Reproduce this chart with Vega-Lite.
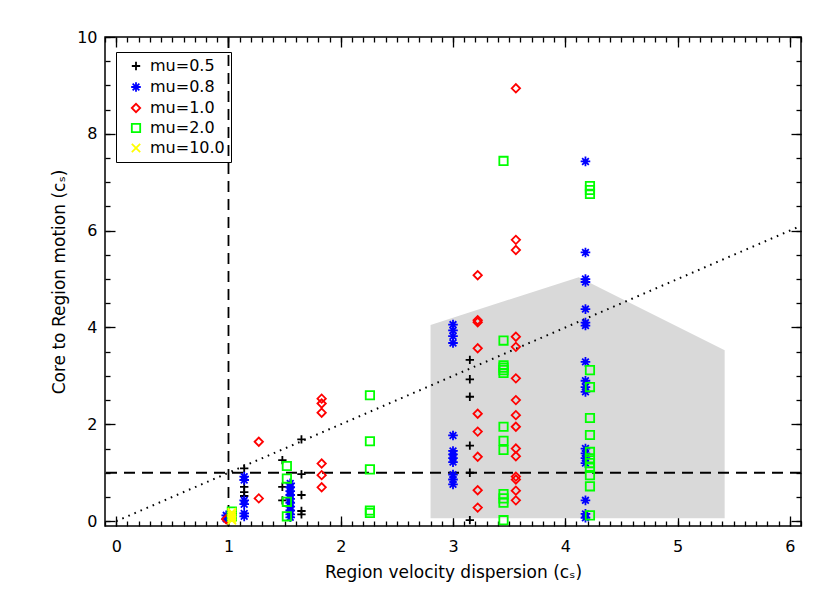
{
  "$schema": "https://vega.github.io/schema/vega-lite/v6.json",
  "width": 696,
  "height": 489,
  "autosize": "none",
  "padding": {"left": 105, "top": 37, "right": 29, "bottom": 67},
  "background": "white",
  "config": {
    "view": {"stroke": "black", "strokeWidth": 1.5},
    "font": "DejaVu Sans",
    "axis": {
      "domain": false, "grid": false, "tickColor": "black", "tickWidth": 1.3,
      "labelFont": "DejaVu Sans", "labelFontSize": 16, "labelColor": "black",
      "titleFont": "DejaVu Sans", "titleFontSize": 17, "titleFontWeight": "normal", "titleColor": "black",
      "labelFlush": false, "labelOverlap": false
    }
  },
  "datasets": {
    "poly": [
      {"x": 2.8, "y": 4.05, "y2": 0.06},
      {"x": 4.12, "y": 5.04, "y2": 0.06},
      {"x": 5.42, "y": 3.53, "y2": 0.06}
    ],
    "vline": [{"x": 1}],
    "hline": [{"y": 1}],
    "diag": [{"x": 0, "y": 0}, {"x": 6.1, "y": 6.1}],
    "points": [
      {"series": "mu=0.5", "x": 0.98, "y": 0.05},
      {"series": "mu=0.5", "x": 0.99, "y": 0.1},
      {"series": "mu=0.5", "x": 1.14, "y": 1.09},
      {"series": "mu=0.5", "x": 1.14, "y": 0.71},
      {"series": "mu=0.5", "x": 1.14, "y": 0.6},
      {"series": "mu=0.5", "x": 1.14, "y": 0.52},
      {"series": "mu=0.5", "x": 1.48, "y": 1.26},
      {"series": "mu=0.5", "x": 1.48, "y": 0.71},
      {"series": "mu=0.5", "x": 1.48, "y": 0.43},
      {"series": "mu=0.5", "x": 1.65, "y": 1.69},
      {"series": "mu=0.5", "x": 1.65, "y": 0.97},
      {"series": "mu=0.5", "x": 1.65, "y": 0.54},
      {"series": "mu=0.5", "x": 1.65, "y": 0.21},
      {"series": "mu=0.5", "x": 1.65, "y": 0.14},
      {"series": "mu=0.5", "x": 3.15, "y": 3.33},
      {"series": "mu=0.5", "x": 3.15, "y": 2.93},
      {"series": "mu=0.5", "x": 3.15, "y": 2.57},
      {"series": "mu=0.5", "x": 3.15, "y": 1.56},
      {"series": "mu=0.5", "x": 3.15, "y": 1.0},
      {"series": "mu=0.5", "x": 3.15, "y": 0.02},

      {"series": "mu=0.8", "x": 0.98, "y": 0.05},
      {"series": "mu=0.8", "x": 0.98, "y": 0.12},
      {"series": "mu=0.8", "x": 1.14, "y": 0.92},
      {"series": "mu=0.8", "x": 1.14, "y": 0.85},
      {"series": "mu=0.8", "x": 1.14, "y": 0.43},
      {"series": "mu=0.8", "x": 1.14, "y": 0.35},
      {"series": "mu=0.8", "x": 1.14, "y": 0.16},
      {"series": "mu=0.8", "x": 1.14, "y": 0.1},
      {"series": "mu=0.8", "x": 1.55, "y": 0.78},
      {"series": "mu=0.8", "x": 1.55, "y": 0.7},
      {"series": "mu=0.8", "x": 1.55, "y": 0.62},
      {"series": "mu=0.8", "x": 1.55, "y": 0.54},
      {"series": "mu=0.8", "x": 1.55, "y": 0.46},
      {"series": "mu=0.8", "x": 1.55, "y": 0.38},
      {"series": "mu=0.8", "x": 1.55, "y": 0.3},
      {"series": "mu=0.8", "x": 1.55, "y": 0.22},
      {"series": "mu=0.8", "x": 1.55, "y": 0.14},
      {"series": "mu=0.8", "x": 1.55, "y": 0.08},
      {"series": "mu=0.8", "x": 3.0, "y": 4.06},
      {"series": "mu=0.8", "x": 3.0, "y": 3.94},
      {"series": "mu=0.8", "x": 3.0, "y": 3.82},
      {"series": "mu=0.8", "x": 3.0, "y": 3.68},
      {"series": "mu=0.8", "x": 3.0, "y": 1.77},
      {"series": "mu=0.8", "x": 3.0, "y": 1.45},
      {"series": "mu=0.8", "x": 3.0, "y": 1.38},
      {"series": "mu=0.8", "x": 3.0, "y": 1.3},
      {"series": "mu=0.8", "x": 3.0, "y": 1.22},
      {"series": "mu=0.8", "x": 3.0, "y": 0.96},
      {"series": "mu=0.8", "x": 3.0, "y": 0.86},
      {"series": "mu=0.8", "x": 3.0, "y": 0.76},
      {"series": "mu=0.8", "x": 4.18, "y": 7.43},
      {"series": "mu=0.8", "x": 4.18, "y": 5.55},
      {"series": "mu=0.8", "x": 4.18, "y": 5.0},
      {"series": "mu=0.8", "x": 4.18, "y": 4.94},
      {"series": "mu=0.8", "x": 4.18, "y": 4.38},
      {"series": "mu=0.8", "x": 4.18, "y": 4.1},
      {"series": "mu=0.8", "x": 4.18, "y": 4.04},
      {"series": "mu=0.8", "x": 4.18, "y": 3.29},
      {"series": "mu=0.8", "x": 4.18, "y": 2.9},
      {"series": "mu=0.8", "x": 4.18, "y": 2.77},
      {"series": "mu=0.8", "x": 4.18, "y": 2.67},
      {"series": "mu=0.8", "x": 4.18, "y": 1.5},
      {"series": "mu=0.8", "x": 4.18, "y": 1.4},
      {"series": "mu=0.8", "x": 4.18, "y": 1.3},
      {"series": "mu=0.8", "x": 4.18, "y": 1.2},
      {"series": "mu=0.8", "x": 4.18, "y": 0.43},
      {"series": "mu=0.8", "x": 4.18, "y": 0.15},
      {"series": "mu=0.8", "x": 4.18, "y": 0.07},

      {"series": "mu=1.0", "x": 0.98, "y": 0.04},
      {"series": "mu=1.0", "x": 1.27, "y": 1.64},
      {"series": "mu=1.0", "x": 1.27, "y": 0.47},
      {"series": "mu=1.0", "x": 1.83, "y": 2.53},
      {"series": "mu=1.0", "x": 1.83, "y": 2.43},
      {"series": "mu=1.0", "x": 1.83, "y": 2.24},
      {"series": "mu=1.0", "x": 1.83, "y": 1.19},
      {"series": "mu=1.0", "x": 1.83, "y": 0.95},
      {"series": "mu=1.0", "x": 1.83, "y": 0.7},
      {"series": "mu=1.0", "x": 3.22, "y": 5.08},
      {"series": "mu=1.0", "x": 3.22, "y": 4.15},
      {"series": "mu=1.0", "x": 3.22, "y": 4.11},
      {"series": "mu=1.0", "x": 3.22, "y": 3.57},
      {"series": "mu=1.0", "x": 3.22, "y": 2.22},
      {"series": "mu=1.0", "x": 3.22, "y": 1.85},
      {"series": "mu=1.0", "x": 3.22, "y": 1.33},
      {"series": "mu=1.0", "x": 3.22, "y": 0.64},
      {"series": "mu=1.0", "x": 3.22, "y": 0.28},
      {"series": "mu=1.0", "x": 3.56, "y": 8.94},
      {"series": "mu=1.0", "x": 3.56, "y": 5.81},
      {"series": "mu=1.0", "x": 3.56, "y": 5.6},
      {"series": "mu=1.0", "x": 3.56, "y": 3.81},
      {"series": "mu=1.0", "x": 3.56, "y": 3.6},
      {"series": "mu=1.0", "x": 3.56, "y": 2.95},
      {"series": "mu=1.0", "x": 3.56, "y": 2.5},
      {"series": "mu=1.0", "x": 3.56, "y": 2.19},
      {"series": "mu=1.0", "x": 3.56, "y": 1.95},
      {"series": "mu=1.0", "x": 3.56, "y": 1.5},
      {"series": "mu=1.0", "x": 3.56, "y": 1.34},
      {"series": "mu=1.0", "x": 3.56, "y": 0.92},
      {"series": "mu=1.0", "x": 3.56, "y": 0.86},
      {"series": "mu=1.0", "x": 3.56, "y": 0.63},
      {"series": "mu=1.0", "x": 3.56, "y": 0.43},

      {"series": "mu=2.0", "x": 1.03, "y": 0.2},
      {"series": "mu=2.0", "x": 1.03, "y": 0.1},
      {"series": "mu=2.0", "x": 1.52, "y": 1.14},
      {"series": "mu=2.0", "x": 1.52, "y": 0.88},
      {"series": "mu=2.0", "x": 1.52, "y": 0.4},
      {"series": "mu=2.0", "x": 1.52, "y": 0.1},
      {"series": "mu=2.0", "x": 2.26, "y": 2.6},
      {"series": "mu=2.0", "x": 2.26, "y": 1.65},
      {"series": "mu=2.0", "x": 2.26, "y": 1.07},
      {"series": "mu=2.0", "x": 2.26, "y": 0.22},
      {"series": "mu=2.0", "x": 2.26, "y": 0.17},
      {"series": "mu=2.0", "x": 3.45, "y": 7.44},
      {"series": "mu=2.0", "x": 3.45, "y": 3.73},
      {"series": "mu=2.0", "x": 3.45, "y": 3.22},
      {"series": "mu=2.0", "x": 3.45, "y": 3.17},
      {"series": "mu=2.0", "x": 3.45, "y": 3.12},
      {"series": "mu=2.0", "x": 3.45, "y": 3.06},
      {"series": "mu=2.0", "x": 3.45, "y": 1.95},
      {"series": "mu=2.0", "x": 3.45, "y": 1.66},
      {"series": "mu=2.0", "x": 3.45, "y": 1.47},
      {"series": "mu=2.0", "x": 3.45, "y": 0.56},
      {"series": "mu=2.0", "x": 3.45, "y": 0.47},
      {"series": "mu=2.0", "x": 3.45, "y": 0.38},
      {"series": "mu=2.0", "x": 3.45, "y": 0.02},
      {"series": "mu=2.0", "x": 4.22, "y": 6.92},
      {"series": "mu=2.0", "x": 4.22, "y": 6.84},
      {"series": "mu=2.0", "x": 4.22, "y": 6.76},
      {"series": "mu=2.0", "x": 4.22, "y": 3.12},
      {"series": "mu=2.0", "x": 4.22, "y": 2.77},
      {"series": "mu=2.0", "x": 4.22, "y": 2.13},
      {"series": "mu=2.0", "x": 4.22, "y": 1.78},
      {"series": "mu=2.0", "x": 4.22, "y": 1.43},
      {"series": "mu=2.0", "x": 4.22, "y": 1.3},
      {"series": "mu=2.0", "x": 4.22, "y": 1.2},
      {"series": "mu=2.0", "x": 4.22, "y": 1.1},
      {"series": "mu=2.0", "x": 4.22, "y": 0.95},
      {"series": "mu=2.0", "x": 4.22, "y": 0.72},
      {"series": "mu=2.0", "x": 4.22, "y": 0.12},

      {"series": "mu=10.0", "x": 1.03, "y": 0.02},
      {"series": "mu=10.0", "x": 1.03, "y": 0.06},
      {"series": "mu=10.0", "x": 1.03, "y": 0.1},
      {"series": "mu=10.0", "x": 1.03, "y": 0.14},
      {"series": "mu=10.0", "x": 1.03, "y": 0.18}
    ]
  },
  "layer": [
    {
      "data": {"name": "poly"},
      "mark": {"type": "area", "color": "#d9d9d9", "opacity": 1},
      "encoding": {
        "x": {"field": "x", "type": "quantitative",
          "scale": {"domain": [-0.1, 6.1], "nice": false, "zero": false},
          "axis": {"orient": "bottom", "values": [0, 1, 2, 3, 4, 5, 6], "format": "d", "tickSize": -10,
            "labelPadding": 22, "title": "Region velocity dispersion (cₛ)", "titlePadding": 10}},
        "y": {"field": "y", "type": "quantitative",
          "scale": {"domain": [-0.1, 10], "nice": false, "zero": false},
          "axis": {"orient": "left", "values": [0, 2, 4, 6, 8, 10], "format": "d", "tickSize": -10,
            "labelPadding": 18, "title": "Core to Region motion (cₛ)", "titlePadding": 8}},
        "y2": {"field": "y2"}
      }
    },
    {
      "data": {"name": "vline"},
      "mark": {"type": "rule", "color": "black", "strokeWidth": 1.8, "strokeDash": [11, 7]},
      "encoding": {
        "x": {"field": "x", "type": "quantitative",
          "scale": {"domain": [-0.1, 6.1], "nice": false, "zero": false},
          "axis": {"orient": "bottom", "values": [-0.1, 0, 0.1, 0.2, 0.3, 0.4, 0.5, 0.6, 0.7, 0.8, 0.9, 1, 1.1, 1.2, 1.3, 1.4, 1.5, 1.6, 1.7, 1.8, 1.9, 2, 2.1, 2.2, 2.3, 2.4, 2.5, 2.6, 2.7, 2.8, 2.9, 3, 3.1, 3.2, 3.3, 3.4, 3.5, 3.6, 3.7, 3.8, 3.9, 4, 4.1, 4.2, 4.3, 4.4, 4.5, 4.6, 4.7, 4.8, 4.9, 5, 5.1, 5.2, 5.3, 5.4, 5.5, 5.6, 5.7, 5.8, 5.9, 6, 6.1],
            "tickSize": -5, "labels": false, "title": null}}
      }
    },
    {
      "data": {"name": "hline"},
      "mark": {"type": "rule", "color": "black", "strokeWidth": 1.8, "strokeDash": [11, 7]},
      "encoding": {
        "y": {"field": "y", "type": "quantitative",
          "scale": {"domain": [-0.1, 10], "nice": false, "zero": false},
          "axis": {"orient": "left", "values": [0, 0.5, 1, 1.5, 2, 2.5, 3, 3.5, 4, 4.5, 5, 5.5, 6, 6.5, 7, 7.5, 8, 8.5, 9, 9.5, 10],
            "tickSize": -5, "labels": false, "title": null}}
      }
    },
    {
      "data": {"name": "diag"},
      "mark": {"type": "line", "color": "black", "strokeWidth": 2, "strokeDash": [1.6, 5], "clip": true},
      "encoding": {
        "x": {"field": "x", "type": "quantitative",
          "scale": {"domain": [-0.1, 6.1], "nice": false, "zero": false},
          "axis": {"orient": "top", "values": [0, 1, 2, 3, 4, 5, 6], "tickSize": -10, "labels": false, "title": null}},
        "y": {"field": "y", "type": "quantitative",
          "scale": {"domain": [-0.1, 10], "nice": false, "zero": false},
          "axis": {"orient": "right", "values": [0, 2, 4, 6, 8, 10], "tickSize": -10, "labels": false, "title": null}}
      }
    },
    {
      "data": {"name": "points"},
      "mark": {"type": "point", "filled": false, "strokeWidth": 1.8, "size": 70, "opacity": 1},
      "encoding": {
        "x": {"field": "x", "type": "quantitative",
          "scale": {"domain": [-0.1, 6.1], "nice": false, "zero": false},
          "axis": {"orient": "top", "values": [-0.1, 0, 0.1, 0.2, 0.3, 0.4, 0.5, 0.6, 0.7, 0.8, 0.9, 1, 1.1, 1.2, 1.3, 1.4, 1.5, 1.6, 1.7, 1.8, 1.9, 2, 2.1, 2.2, 2.3, 2.4, 2.5, 2.6, 2.7, 2.8, 2.9, 3, 3.1, 3.2, 3.3, 3.4, 3.5, 3.6, 3.7, 3.8, 3.9, 4, 4.1, 4.2, 4.3, 4.4, 4.5, 4.6, 4.7, 4.8, 4.9, 5, 5.1, 5.2, 5.3, 5.4, 5.5, 5.6, 5.7, 5.8, 5.9, 6, 6.1],
            "tickSize": -5, "labels": false, "title": null}},
        "y": {"field": "y", "type": "quantitative",
          "scale": {"domain": [-0.1, 10], "nice": false, "zero": false},
          "axis": {"orient": "right", "values": [0, 0.5, 1, 1.5, 2, 2.5, 3, 3.5, 4, 4.5, 5, 5.5, 6, 6.5, 7, 7.5, 8, 8.5, 9, 9.5, 10],
            "tickSize": -5, "labels": false, "title": null}},
        "color": {"field": "series", "type": "nominal",
          "scale": {"domain": ["mu=0.5", "mu=0.8", "mu=1.0", "mu=2.0", "mu=10.0"],
            "range": ["#000000", "#0000ff", "#ff0000", "#00ff00", "#ffff00"]},
          "legend": {"title": null, "orient": "none", "legendX": 11, "legendY": 15, "padding": 6,
            "fillColor": "transparent", "strokeColor": "black", "labelFontSize": 16, "labelFont": "DejaVu Sans",
            "labelColor": "black", "symbolStrokeWidth": 1.8, "symbolSize": 70, "rowPadding": 4,
            "symbolOffset": 6, "labelOffset": 6}},
        "shape": {"field": "series", "type": "nominal",
          "scale": {"domain": ["mu=0.5", "mu=0.8", "mu=1.0", "mu=2.0", "mu=10.0"],
            "range": ["M-1,0L1,0M0,-1L0,1", "M-1.15,0L1.15,0M0,-1.15L0,1.15M-0.8,-0.8L0.8,0.8M-0.8,0.8L0.8,-0.8", "diamond", "square", "M-1,-1L1,1M-1,1L1,-1"]},
          "legend": {"title": null, "orient": "none", "legendX": 11, "legendY": 15, "padding": 6,
            "fillColor": "transparent", "strokeColor": "black", "labelFontSize": 16, "labelFont": "DejaVu Sans",
            "labelColor": "black", "symbolStrokeWidth": 1.8, "symbolSize": 70, "rowPadding": 4,
            "symbolOffset": 6, "labelOffset": 6}}
      }
    }
  ],
  "resolve": {"axis": {"x": "independent", "y": "independent"}}
}
